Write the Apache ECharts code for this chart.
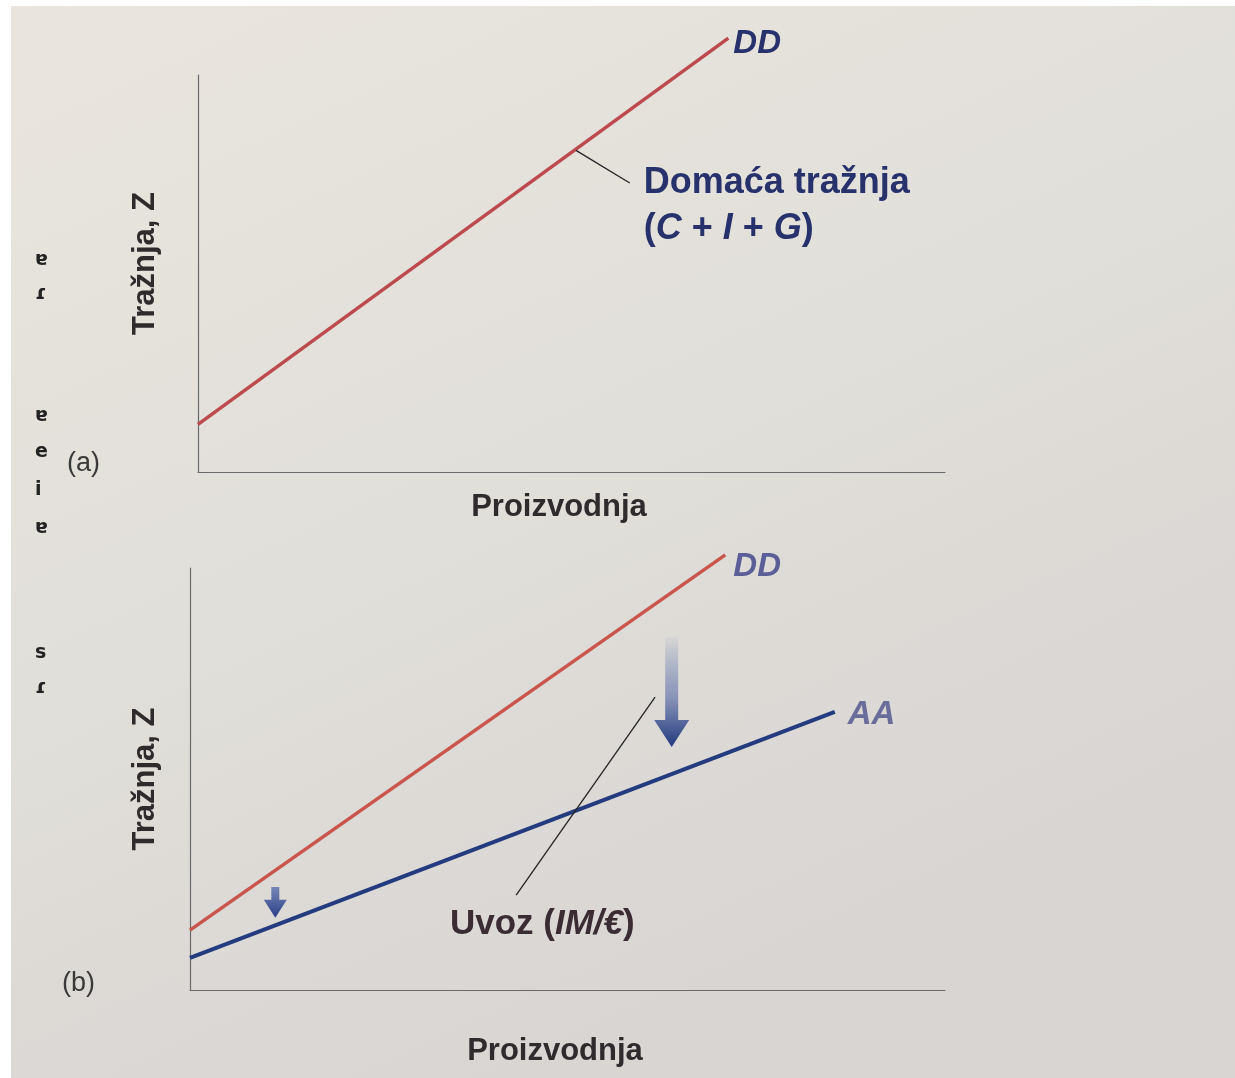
<!DOCTYPE html>
<html>
<head>
<meta charset="utf-8">
<script src="https://cdn.jsdelivr.net/npm/echarts@6/dist/echarts.min.js"></script>
<style>
  html, body { margin: 0; padding: 0; background: #fff; }
  #chart { width: 1235px; height: 1078px; }
</style>
</head>
<body>
<div id="chart"></div>
<script>
// values on a 0-100 scale for both axes of each panel
var ddTop = [[0, 12], [71, 109.3]];          // panel (a) domestic demand
var ddBottom = [[0, 14.2], [70.9, 103.1]];   // panel (b) domestic demand
var aaBottom = [[0, 7.6], [85.4, 65.9]];     // panel (b) demand for domestic goods
var leaderTop = [[50.6, 81], [57.8, 72.8]];
var leaderBottom = [[61.6, 69.4], [43.2, 22.5]];
var shifts = [[63.8, 83.6, 57.6], [11.3, 24.4, 17.1]]; // x, from, to

var xTitle = 'Proizvodnja';
var yTitle = 'Tražnja, Z';

// where the two annotations sit (data units)
var noteTopAt = [59.6, 67];
var noteBottomAt = [46.6, 15.6];

var font = "'Liberation Sans', Arial, sans-serif";
var navy = '#27316c';

var arrowSizes = [
  { shaft: 13, head: 35, headLen: 27, from: 'rgba(120,135,180,0.05)', mid: '#8a94ba', to: '#223a7c' },
  { shaft: 8, head: 23, headLen: 18, from: '#7685b6', mid: '#4d5f9c', to: '#273f85' }
];

var chartDom = document.getElementById('chart');
var myChart = echarts.init(chartDom);

function xAxisFor(i, gap) {
  return {
    gridIndex: i, type: 'value', min: 0, max: 100,
    name: xTitle, nameLocation: 'middle', nameGap: gap,
    nameTextStyle: { fontFamily: font, fontWeight: 'bold', fontSize: 31, color: '#2f2b2d', padding: [0, 25, 0, 0] },
    axisLine: { show: true, lineStyle: { color: '#6a6a6a', width: 1.2 } },
    axisTick: { show: false }, axisLabel: { show: false }, splitLine: { show: false }
  };
}
function yAxisFor(i, gap, pad) {
  return {
    gridIndex: i, type: 'value', min: 0, max: 100,
    name: yTitle, nameLocation: 'middle', nameGap: gap, nameRotate: 90,
    nameTextStyle: { fontFamily: font, fontWeight: 'bold', fontSize: 31, color: '#2f2b2d', padding: pad },
    axisLine: { show: true, lineStyle: { color: '#6a6a6a', width: 1.2 } },
    axisTick: { show: false }, axisLabel: { show: false }, splitLine: { show: false }
  };
}

function endLbl(text, color, dist, off) {
  return {
    show: true, formatter: text, distance: dist, offset: off,
    fontFamily: font, fontWeight: 'bold', fontStyle: 'italic', fontSize: 33, color: color
  };
}

var richBase = {
  a: { fontFamily: font, fontWeight: 'bold', fontSize: 36, color: navy, lineHeight: 46 },
  i: { fontFamily: font, fontWeight: 'bold', fontStyle: 'italic', fontSize: 36, color: navy, lineHeight: 46 },
  u: { fontFamily: font, fontWeight: 'bold', fontSize: 35, color: '#3a2c32', lineHeight: 40 },
  ui: { fontFamily: font, fontWeight: 'bold', fontStyle: 'italic', fontSize: 35, color: '#3a2c32', lineHeight: 40 }
};

var gutter = [['ɐ', 262], ['ɾ', 296], ['ɐ', 418], ['e', 454], ['i', 492], ['ɐ', 530], ['s', 655], ['ɾ', 690]];

var graphics = [
  {
    type: 'rect', z: -10, silent: true,
    shape: { x: 11, y: 6, width: 1224, height: 1072 },
    style: {
      fill: new echarts.graphic.LinearGradient(0, 0, 0.4, 1, [
        { offset: 0, color: '#e9e4de' },
        { offset: 0.5, color: '#e2e0da' },
        { offset: 1, color: '#d8d5d3' }
      ])
    }
  },
  { type: 'text', left: 67, top: 450, style: { text: '(a)', fontFamily: font, fontSize: 27, fill: '#3a3a3a' } },
  { type: 'text', left: 62, top: 970, style: { text: '(b)', fontFamily: font, fontSize: 27, fill: '#3a3a3a' } }
];
gutter.forEach(function (g) {
  graphics.push({ type: 'text', left: 35, top: g[1] - 11, style: { text: g[0], fontFamily: 'DejaVu Sans', fontWeight: 'bold', fontSize: 19, fill: '#222' } });
});

option = {
  animation: false,
  backgroundColor: '#fff',
  graphic: graphics,
  grid: [
    { left: 198, top: 75, width: 747, height: 397 },
    { left: 190, top: 568, width: 755, height: 422 }
  ],
  xAxis: [xAxisFor(0, 20), xAxisFor(1, 46)],
  yAxis: [yAxisFor(0, 37, [0, 0, 0, 20]), yAxisFor(1, 29, [0, 0, 0, 0])],
  series: [
    {
      type: 'line', xAxisIndex: 0, yAxisIndex: 0, data: ddTop, clip: false,
      symbol: 'none', lineStyle: { color: '#bd4a4f', width: 3.5 },
      endLabel: endLbl('DD', navy, 5, [0, 6])
    },
    {
      type: 'line', xAxisIndex: 0, yAxisIndex: 0, data: leaderTop, clip: false,
      symbol: 'none', lineStyle: { color: '#232323', width: 1.3 }
    },
    {
      type: 'scatter', xAxisIndex: 0, yAxisIndex: 0, data: [noteTopAt],
      symbolSize: 1, itemStyle: { color: 'rgba(0,0,0,0)', opacity: 1 },
      label: {
        show: true, position: 'right', distance: 0, align: 'left', verticalAlign: 'middle',
        formatter: '{a|Domaća tražnja}\n{a|(}{i|C}{a| + }{i|I}{a| + }{i|G}{a|)}',
        rich: richBase
      }
    },
    {
      type: 'line', xAxisIndex: 1, yAxisIndex: 1, data: ddBottom, clip: false,
      symbol: 'none', lineStyle: { color: '#c9554c', width: 3.5 },
      endLabel: endLbl('DD', '#5c5f97', 8, [0, 12])
    },
    {
      type: 'line', xAxisIndex: 1, yAxisIndex: 1, data: aaBottom, clip: false,
      symbol: 'none', lineStyle: { color: '#243b7f', width: 4 },
      endLabel: endLbl('AA', '#6a6c99', 13, [0, 3])
    },
    {
      type: 'line', xAxisIndex: 1, yAxisIndex: 1, data: leaderBottom, clip: false,
      symbol: 'none', lineStyle: { color: '#232323', width: 1.3 }
    },
    {
      type: 'scatter', xAxisIndex: 1, yAxisIndex: 1, data: [noteBottomAt],
      symbolSize: 1, itemStyle: { color: 'rgba(0,0,0,0)', opacity: 1 },
      label: {
        show: true, position: 'right', distance: 0, align: 'center', verticalAlign: 'middle',
        formatter: '{u|Uvoz (}{ui|IM/€}{u|)}',
        rich: richBase
      }
    },
    {
      type: 'custom', xAxisIndex: 1, yAxisIndex: 1, data: shifts, clip: false,
      encode: { x: 0, y: [1, 2] },
      renderItem: function (params, api) {
        var s = arrowSizes[params.dataIndex];
        var top = api.coord([api.value(0), api.value(1)]);
        var tip = api.coord([api.value(0), api.value(2)]);
        var x = top[0];
        var hy = tip[1] - s.headLen;
        return {
          type: 'polygon',
          shape: {
            points: [
              [x - s.shaft / 2, top[1]], [x + s.shaft / 2, top[1]], [x + s.shaft / 2, hy],
              [x + s.head / 2, hy], [x, tip[1]], [x - s.head / 2, hy], [x - s.shaft / 2, hy]
            ]
          },
          style: {
            fill: new echarts.graphic.LinearGradient(0, 0, 0, 1, [
              { offset: 0, color: s.from },
              { offset: 0.55, color: s.mid },
              { offset: 1, color: s.to }
            ])
          }
        };
      }
    }
  ]
};

option && myChart.setOption(option);
</script>
</body>
</html>
